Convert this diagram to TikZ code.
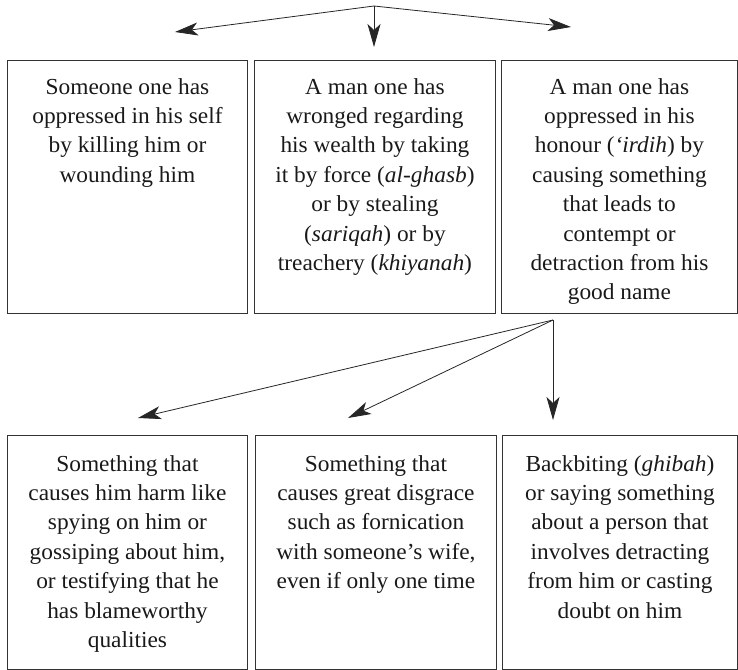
\documentclass[tikz,border=0pt]{standalone}
\usepackage{fontspec}
\setmainfont[FakeStretch=1.02]{Liberation Serif}
\usetikzlibrary{arrows.meta}
\tikzset{
  box/.style={draw=black!80, line width=0.9bp, rectangle, anchor=north west, inner sep=0pt},
  txt/.style={anchor=north, align=center, inner sep=0pt, font=\fontsize{23}{29.5}\selectfont, text=black!90},
  arr/.style={draw=black!85, line width=0.8bp, -{Stealth[length=23bp, width=13bp, inset=6bp]}}
}
\begin{document}
\begin{tikzpicture}[x=1bp, y=-1bp]
\useasboundingbox (0,0) rectangle (738,670);
% boxes
\node[box, minimum width=240bp, minimum height=253bp] (a1) at (7,60) {};
\node[box, minimum width=241bp, minimum height=253bp] (a2) at (254,60) {};
\node[box, minimum width=236bp, minimum height=253bp] (a3) at (501,60) {};
\node[box, minimum width=240bp, minimum height=234bp] (b1) at (7,435) {};
\node[box, minimum width=241bp, minimum height=234bp] (b2) at (255,435) {};
\node[box, minimum width=235bp, minimum height=234bp] (b3) at (502,435) {};
% texts
\node[txt] (ta1) at ([yshift=-18bp]a1.north) {Someone one has\\oppressed in his self\\by killing him or\\wounding him};
\node[txt] (ta2) at ([yshift=-18bp]a2.north) {A man one has\\wronged regarding\\his wealth by taking\\it by force (\textit{al-ghasb})\\or by stealing\\(\textit{sariqah}) or by\\treachery (\textit{khiyanah})};
\node[txt] (ta3) at ([yshift=-18bp]a3.north) {A man one has\\oppressed in his\\honour (\textit{‘irdih}) by\\causing something\\that leads to\\contempt or\\detraction from his\\good name};
\node[txt] (tb1) at ([yshift=-20bp]b1.north) {Something that\\causes him harm like\\spying on him or\\gossiping about him,\\or testifying that he\\has blameworthy\\qualities};
\node[txt] (tb2) at ([yshift=-20bp]b2.north) {Something that\\causes great disgrace\\such as fornication\\with someone’s wife,\\even if only one time};
\node[txt] (tb3) at ([yshift=-20bp]b3.north) {Backbiting (\textit{ghibah})\\or saying something\\about a person that\\involves detracting\\from him or casting\\doubt on him};
% arrows top
\coordinate (p) at (374,6);
\coordinate (pl) at (175,32);
\coordinate (pm) at (374,47);
\coordinate (pr) at (571,27);
\draw[arr] (p) -- (pl);
\draw[arr] (p) -- (pm);
\draw[arr] (p) -- (pr);
% arrows bottom
\coordinate (q) at (553,320);
\coordinate (ql) at (138,418);
\coordinate (qm) at (348,418);
\coordinate (qr) at (553,420);
\draw[arr] (q) -- (ql);
\draw[arr] (q) -- (qm);
\draw[arr] (q) -- (qr);
\end{tikzpicture}
\end{document}
